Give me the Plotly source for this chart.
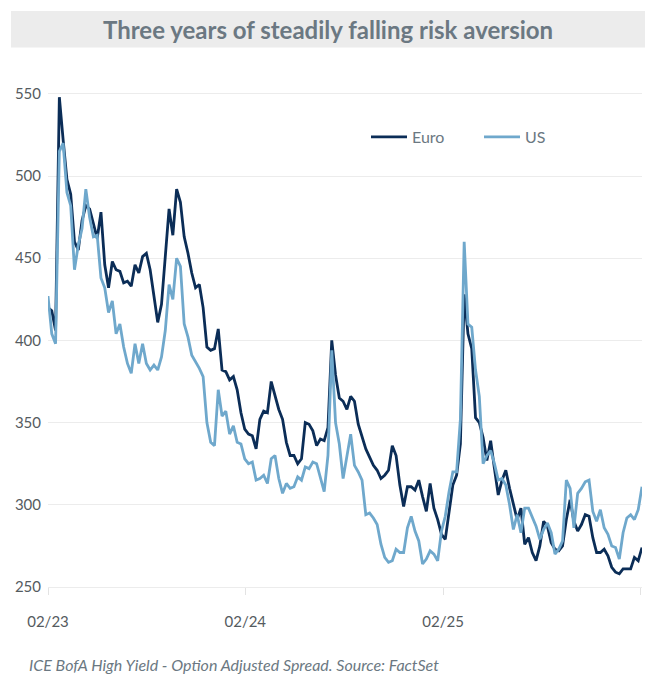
import pandas as pd
import plotly.graph_objects as go

# Weekly observations, starting first week of February 2023
start_date = "2023-02-01"
n_weeks = 158

euro = [
    420, 418, 406, 548, 522, 498, 489, 460, 455, 473,
    482, 480, 471, 462, 478, 446, 432, 448, 443, 442,
    435, 436, 433, 446, 441, 451, 453, 443, 427, 411,
    422, 450, 480, 464, 492, 484, 463, 453, 441, 432,
    434, 420, 396, 394, 395, 407, 382, 381, 376, 378,
    370, 356, 346, 343, 342, 334, 352, 357, 356, 375,
    366, 358, 352, 338, 330, 330, 325, 328, 350, 349,
    345, 336, 340, 339, 347, 400, 379, 365, 363, 358,
    366, 363, 349, 341, 334, 329, 324, 321, 316, 318,
    321, 336, 330, 312, 299, 311, 311, 309, 315, 305,
    296, 313, 298, 291, 282, 279, 295, 312, 318, 337,
    428, 404, 395, 353, 350, 341, 327, 339, 322, 306,
    315, 321, 310, 300, 291, 298, 276, 280, 271, 266,
    275, 290, 287, 277, 273, 272, 275, 291, 303, 290,
    284, 288, 294, 293, 280, 271, 271, 273, 269, 262,
    259, 258, 261, 261, 261, 268, 266, 274,
]

us = [
    427, 404, 398, 515, 520, 490, 482, 443, 458, 468,
    492, 475, 463, 464, 438, 432, 417, 424, 404, 410,
    396, 386, 380, 398, 386, 398, 386, 382, 385, 382,
    390, 406, 434, 425, 450, 445, 410, 402, 391, 387,
    383, 378, 350, 338, 336, 370, 354, 357, 343, 348,
    338, 337, 328, 325, 326, 315, 316, 318, 313, 328,
    330, 316, 307, 313, 310, 311, 317, 315, 323, 322,
    326, 325, 317, 308, 330, 394, 350, 337, 316, 330,
    343, 324, 320, 315, 294, 295, 292, 288, 276, 268,
    265, 266, 273, 271, 271, 286, 293, 284, 278, 264,
    267, 272, 270, 266, 284, 293, 308, 320, 320, 352,
    460, 410, 408, 382, 366, 325, 330, 333, 325, 315,
    316, 312, 300, 285, 294, 283, 298, 298, 293, 287,
    279, 285, 289, 283, 270, 273, 278, 315, 310, 286,
    307, 310, 314, 315, 296, 290, 297, 286, 282, 275,
    274, 267, 283, 292, 294, 291, 297, 311,
]

tick_dates = ["2023-02-01", "2024-02-01", "2025-02-01", "2026-02-01"]
tick_labels = ["02/23", "02/24", "02/25", ""]
y_ticks = [250, 300, 350, 400, 450, 500, 550]

dates = pd.date_range(start_date, periods=n_weeks, freq="7D")

EURO_COLOR = "#0b2d57"
US_COLOR = "#6fa8cc"
TEXT_GREY = "#6b7882"
TICK_GREY = "#555b60"
FONT = "Lato"

fig = go.Figure()
fig.add_trace(go.Scatter(x=dates, y=euro, mode="lines", name="Euro",
                         line=dict(color=EURO_COLOR, width=2.8)))
fig.add_trace(go.Scatter(x=dates, y=us, mode="lines", name="US",
                         line=dict(color=US_COLOR, width=2.8)))

W, H = 645, 675
L, R, T, B = 48, 3, 84, 88
plot_h = H - T - B
plot_w = W - L - R

def py(p):
    return (H - B - p) / plot_h

def px(p):
    return (p - L) / plot_w

fig.update_layout(
    width=W, height=H, autosize=False,
    margin=dict(l=L, r=R, t=T, b=B, autoexpand=False),
    paper_bgcolor="white", plot_bgcolor="white",
    font=dict(family=FONT, color=TICK_GREY, size=15),
    showlegend=True,
    legend=dict(orientation="h", xref="container", yref="container",
                x=366 / W, y=1 - 137 / H, yanchor="middle",
                xanchor="left", font=dict(size=16, color=TEXT_GREY),
                entrywidth=62, entrywidthmode="pixels",
                bgcolor="rgba(0,0,0,0)", itemwidth=36),
    xaxis=dict(
        type="date", range=["2023-02-01", "2026-02-04"], automargin=False,
        tickvals=tick_dates, ticktext=tick_labels,
        showgrid=False, showline=True, linecolor="#ececec", linewidth=1,
        ticks="outside", ticklen=7, tickcolor="#e3e3e3", tickwidth=1,
        tickfont=dict(size=15, color=TICK_GREY), ticklabelstandoff=14,
        zeroline=False,
    ),
    yaxis=dict(
        range=[250, 556], tickvals=y_ticks, automargin=False,
        showgrid=True, gridcolor="#ececec", gridwidth=1,
        zeroline=False, showline=False, ticks="",
        tickfont=dict(size=15, color=TICK_GREY), ticklabelstandoff=6,
    ),
)

fig.add_shape(type="rect", xref="paper", yref="paper",
              x0=px(11), x1=px(W), y0=py(47.5), y1=py(11),
              fillcolor="#ececec", line=dict(width=0), layer="below")

fig.add_annotation(text="<b>Three years of steadily falling risk aversion</b>",
                   xref="paper", yref="paper", x=px(328), y=py(29.5),
                   xanchor="center", yanchor="middle", showarrow=False,
                   font=dict(family=FONT, size=24, color=TEXT_GREY))

fig.add_annotation(text="<i>ICE BofA High Yield - Option Adjusted Spread. Source: FactSet</i>",
                   xref="paper", yref="paper", x=px(27), y=py(664),
                   xanchor="left", yanchor="middle", showarrow=False,
                   font=dict(family=FONT, size=16, color=TEXT_GREY))

fig.write_html("out.html")
